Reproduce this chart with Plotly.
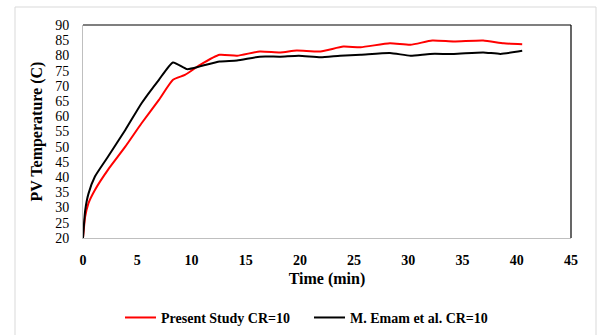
import plotly.graph_objects as go

time_present = [0, 0.2, 0.5, 1.1, 2.3, 3.9, 5.4, 7.0, 8.3, 9.4, 10.8, 12.6, 14.2, 16.3, 18.2, 19.7,
                21.9, 24.0, 25.6, 28.3, 30.2, 32.2, 34.2, 36.9, 38.8, 40.5]
temp_present = [20, 27, 31.4, 35.8, 42.4, 50, 57.7, 65.4, 72, 73.6, 76.9, 80.2, 79.9, 81.3, 81, 81.6,
                81.3, 82.9, 82.7, 84.0, 83.5, 84.9, 84.6, 84.9, 84.0, 83.7]

time_emam = [0, 0.2, 0.5, 1.1, 2.3, 3.9, 5.4, 7.0, 8.3, 9.6, 10.8, 12.6, 14.2, 16.3, 18.2, 19.9,
             21.9, 23.7, 25.6, 28.3, 30.2, 32.0, 34.2, 36.9, 38.5, 40.5]
temp_emam = [20, 29, 34.5, 40.2, 46.7, 55.5, 64.3, 72, 77.7, 75.5, 76.4, 78, 78.3, 79.6, 79.6, 79.9,
             79.4, 79.9, 80.2, 80.8, 79.9, 80.5, 80.5, 81, 80.5, 81.5]

x_ticks = [0, 5, 10, 15, 20, 25, 30, 35, 40, 45]
y_ticks = [20, 25, 30, 35, 40, 45, 50, 55, 60, 65, 70, 75, 80, 85, 90]

FONT = "Liberation Serif"

fig = go.Figure()
fig.add_trace(go.Scatter(x=time_present, y=temp_present, mode="lines", name="Present Study CR=10",
                         line=dict(color="#ff0000", width=2, shape="spline", smoothing=0.5)))
fig.add_trace(go.Scatter(x=time_emam, y=temp_emam, mode="lines", name="M. Emam et al. CR=10",
                         line=dict(color="#000000", width=2, shape="spline", smoothing=0.5)))

fig.update_layout(
    width=600, height=335,
    margin=dict(l=83, r=29, t=25, b=97, autoexpand=False),
    paper_bgcolor="white", plot_bgcolor="white",
    font=dict(family=FONT, color="black"),
    showlegend=True,
    legend=dict(orientation="h", x=(120 - 83) / 488, xanchor="left", y=-0.375, yanchor="middle",
                font=dict(family=FONT, size=14, color="black", weight="bold"),
                itemwidth=31, entrywidth=143, bgcolor="rgba(0,0,0,0)"),
    xaxis=dict(range=[0, 45], tickvals=x_ticks, showgrid=False, zeroline=False,
               showline=True, linecolor="#bfbfbf", linewidth=1, ticks="",
               ticklabelstandoff=9, automargin=False,
               tickfont=dict(family=FONT, size=14, color="black", weight="bold"),
               title=dict(text="<b>Time (min)</b>", font=dict(family=FONT, size=16, color="black"),
                          standoff=6)),
    yaxis=dict(range=[20, 90], tickvals=y_ticks, showgrid=False, zeroline=False,
               showline=True, linecolor="#bfbfbf", linewidth=1, ticks="",
               ticklabelstandoff=10, automargin=False,
               tickfont=dict(family=FONT, size=14, color="black"),
               title=dict(text="<b>PV Temperature (C)</b>", font=dict(family=FONT, size=16, color="black"),
                          standoff=8)),
    shapes=[
        dict(type="line", xref="paper", yref="paper", x0=0, x1=1, y0=1, y1=1,
             line=dict(color="black", width=1.2)),
        dict(type="line", xref="paper", yref="paper", x0=1, x1=1, y0=0, y1=1,
             line=dict(color="black", width=1.2)),
        dict(type="rect", xref="paper", yref="paper",
             x0=(15 - 83) / 488, x1=(596 - 83) / 488,
             y0=(238 - 340) / 213, y1=(238 - 7) / 213,
             line=dict(color="#d9d9d9", width=1), fillcolor="rgba(0,0,0,0)", layer="below"),
    ],
)

fig.write_html("out.html")
